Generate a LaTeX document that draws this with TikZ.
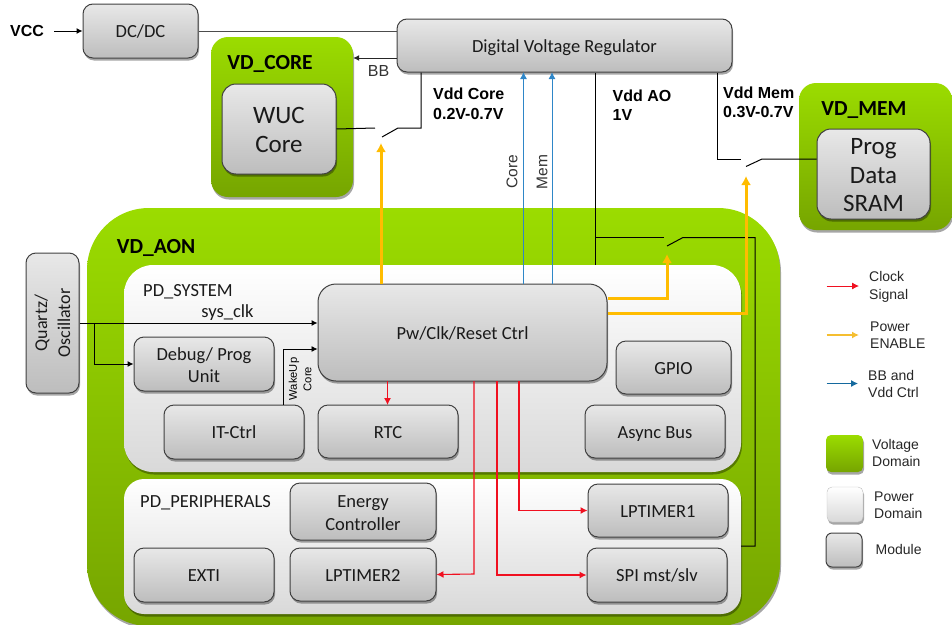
\documentclass[tikz,border=0pt]{standalone}
\usepackage{fontspec}
\setmainfont{Carlito}
\newfontfamily\arialf{Liberation Sans}
\usetikzlibrary{shadows,arrows.meta}
\newcommand\fsz[2]{\fontsize{#1}{#2}\selectfont}
\newcommand\lift[1]{\rule{0pt}{#1pt}}
\definecolor{greentop}{HTML}{9BDC00}
\definecolor{greenbot}{HTML}{76A500}
\definecolor{modtop}{HTML}{E8E8E8}
\definecolor{modbot}{HTML}{BDBDBD}
\definecolor{txt}{HTML}{1A1A1A}
\definecolor{clockred}{HTML}{F01020}
\definecolor{pwrorange}{HTML}{FFBC00}
\definecolor{ctrlblue}{HTML}{2E86C8}
\definecolor{legblue}{HTML}{14699E}
\definecolor{legorange}{HTML}{F5BE30}
\tikzset{
  x=1pt,y=-1pt,
  softshadow/.style={drop shadow={shadow xshift=1pt,shadow yshift=-2.5pt,opacity=.35,fill=black}},
  modbox/.style={draw=black!75,line width=1pt,top color=modtop,bottom color=modbot,
    rounded corners=10pt,inner sep=0pt,align=center,text=txt,font=\fsz{18.5}{22.5},softshadow},
  oneline/.style={text height=17pt,text depth=4pt},
  vdbox/.style={top color=greentop,bottom color=greenbot,inner sep=0pt,softshadow},
  pdbox/.style={top color=white,bottom color=black!15,inner sep=0pt,softshadow},
  blk/.style={draw=black,line width=1pt},
  gate/.style={draw=black,line width=1pt},
  tipped/.style={-{Latex[length=6pt,width=6pt]}},
  clk/.style={draw=clockred,line width=1.1pt,-{Latex[length=7pt,width=7pt]}},
  pwr/.style={draw=pwrorange,line width=3pt,-{Latex[length=9pt,width=10pt]}},
  ctl/.style={draw=ctrlblue,line width=1pt,-{Latex[length=7pt,width=7pt]}},
  lab/.style={inner sep=0pt,align=left,text=black,font=\arialf\bfseries\fsz{16}{19.5}},
  leg/.style={inner sep=0pt,align=left,text=black!85,font=\arialf\fsz{14}{17.5}},
  captxt/.style={inner sep=0pt,text=txt,font=\fsz{18.5}{22}},
  dom/.style={inner sep=0pt,text=black,font=\bfseries\fsz{21.5}{25}},
}
\begin{document}
\begin{tikzpicture}
\useasboundingbox (0,0) rectangle (952,624);
% domains
\node[vdbox,rounded corners=17pt,minimum width=142pt,minimum height=160pt] (vdcore) at (282,117) {};
\node[vdbox,rounded corners=17pt,minimum width=153pt,minimum height=147pt] (vdmem) at (875.5,156.5) {};
\node[vdbox,rounded corners=62pt,minimum width=693pt,minimum height=418pt] (vdaon) at (433.5,417) {};
\node[pdbox,rounded corners=29pt,minimum width=617pt,minimum height=207pt] (pdsys) at (432.5,368.5) {};
\node[pdbox,rounded corners=20pt,minimum width=617pt,minimum height=135pt] (pdper) at (432.5,546.5) {};
% modules
\node[modbox,oneline,minimum width=115pt,minimum height=54pt] (dcdc) at (140.5,31) {DC/DC};
\node[modbox,oneline,minimum width=335pt,minimum height=53pt] (dvr) at (564.5,45.5) {Digital Voltage Regulator};
\node[modbox,rounded corners=14pt,minimum width=114pt,minimum height=90pt,font=\fsz{25}{29}] (wuc) at (279,129) {\lift{18}WUC\\Core};
\node[modbox,rounded corners=14pt,minimum width=113pt,minimum height=90pt,font=\fsz{25}{28.5}] (prog) at (873.5,174) {\lift{18.5}Prog\\Data\\SRAM};
\node[modbox,rotate=90,minimum width=140pt,minimum height=53pt,font=\fsz{18}{23}] (quartz) at (52.5,323) {Quartz/\\Oscillator};
\node[modbox,oneline,rounded corners=18pt,minimum width=289pt,minimum height=97pt] (pw) at (462.5,332.5) {Pw/Clk/Reset Ctrl};
\node[modbox,minimum width=140pt,minimum height=54pt] (debug) at (204,364) {\lift{15}Debug/ Prog\\Unit};
\node[modbox,oneline,minimum width=140pt,minimum height=54pt] (it) at (234,432) {IT-Ctrl};
\node[modbox,oneline,minimum width=140pt,minimum height=53pt] (rtc) at (388,431.5) {RTC};
\node[modbox,oneline,minimum width=115pt,minimum height=53pt] (gpio) at (673.5,367.5) {GPIO};
\node[modbox,oneline,minimum width=140pt,minimum height=53pt] (async) at (655,431.5) {Async Bus};
\node[modbox,minimum width=146pt,minimum height=57pt] (energy) at (363,511.5) {\lift{15}Energy\\Controller};
\node[modbox,oneline,minimum width=140pt,minimum height=54pt] (exti) at (204,575) {EXTI};
\node[modbox,oneline,minimum width=146pt,minimum height=53pt] (lp2) at (363,574.5) {LPTIMER2};
\node[modbox,oneline,minimum width=140pt,minimum height=53pt] (lp1) at (658,510.5) {LPTIMER1};
\node[modbox,oneline,minimum width=140pt,minimum height=54pt] (spi) at (657,575) {SPI mst/slv};
% helper coordinates
\coordinate (vccin) at (54,31);
\coordinate (coreA) at (421,128);
\coordinate (coreB) at (398,128);
\coordinate (coreC) at (382,137);
\coordinate (coreD) at (375,128);
\coordinate (coreT) at (381,143);
\coordinate (aoA) at (595,237.5);
\coordinate (aoB) at (664,237.5);
\coordinate (aoC) at (667,246);
\coordinate (aoD) at (683,237.5);
\coordinate (aoE) at (755,237.5);
\coordinate (aoF) at (755,546);
\coordinate (aoT) at (667,254);
\coordinate (memA) at (717.5,159);
\coordinate (memB) at (741,159);
\coordinate (memC) at (746,166.5);
\coordinate (memD) at (762,159);
\coordinate (memT) at (746,176);
\coordinate (blu1) at (523.5,72);
\coordinate (blu2) at (552,72);
\coordinate (clkbr) at (94.5,323);
\coordinate (wake) at (283.5,349);
% black connectors
\draw[blk,tipped] (vccin) -- (dcdc.west);
\draw[draw=black!70,line width=1pt] (dcdc.east) -- (dcdc.east -| dvr.west);
\draw[draw=black!85,line width=1pt,tipped] (dvr.west |- 0,58) -- (vdcore.east |- 0,58);
\draw[gate] (coreA |- dvr.south) -- (coreA) -- (coreB) -- (coreC);
\draw[gate] (wuc.east) -- (coreD);
\draw[gate] (aoA |- dvr.south) -- (aoA |- pdsys.north);
\draw[gate] (aoA) -- (aoB);
\draw[gate] (aoC) -- (aoD) -- (aoE) -- (aoF) -- (aoF -| pdper.east);
\draw[gate] (memA |- dvr.south) -- (memA) -- (memB);
\draw[gate] (memC) -- (memD) -- (memD -| prog.west);
\draw[blk,tipped] (quartz.south) -- (pw.west |- quartz.south);
\draw[blk,tipped] (clkbr) -- (clkbr |- debug.west) -- (debug.west);
\draw[draw=black,line width=.8pt,tipped] (wake |- it.north) -- (wake) -- (wake -| pw.west);
% orange
\draw[pwr] (coreT |- pw.north) -- (coreT);
\draw[pwr] (pw.east |- 0,298) -- (aoT |- 0,298) -- (aoT);
\draw[pwr] (pw.east |- 0,313) -- (memT |- 0,313) -- (memT);
% blue
\draw[ctl] (blu1 |- pw.north) -- (blu1);
\draw[ctl] (blu2 |- pw.north) -- (blu2);
% red
\draw[clk] (387.5,381) -- (387.5,405);
\draw[clk] (474,381) -- (474,574) -- (lp2.east);
\draw[clk] (497,381) -- (497,575) -- (spi.west);
\draw[clk] (519,381) -- (519,510.5) -- (lp1.west);
% texts
\node[lab] (tvcc) at (27,31) {VCC};
\node[captxt,text=black!80] (tbb) at (378.5,71) {\arialf\fsz{16}{18}BB};
\node[lab,anchor=west] (tcore) at (433,104) {Vdd Core\\0.2V-0.7V};
\node[lab,anchor=west] (tao) at (612.5,105) {Vdd AO\\1V};
\node[lab,anchor=west] (tmem) at (723,102.5) {Vdd Mem\\0.3V-0.7V};
\node[dom] (dcore) at (270,64) {VD\_CORE};
\node[dom] (dmem) at (864,110) {VD\_MEM};
\node[dom] (daon) at (156,248) {VD\_AON};
\node[captxt,anchor=west] (tsys) at (143,292) {PD\_SYSTEM};
\node[captxt,anchor=west] (tper) at (140,502.5) {PD\_PERIPHERALS};
\node[captxt] (tclk) at (227.5,312.5) {sys\_clk};
\node[leg,rotate=90,text=black!80,font=\arialf\fsz{15.5}{18}] (tc) at (512,172) {Core};
\node[leg,rotate=90,text=black!80,font=\arialf\fsz{15.5}{18}] (tm) at (542,172) {Mem};
\node[inner sep=0pt,rotate=90,align=center,text=black,font=\arialf\fsz{11.2}{14.5}] (twu) at (300,379) {WakeUp\\Core};
% legend
\coordinate (l1a) at (826.5,286); \coordinate (l1b) at (859,286);
\coordinate (l2a) at (826.5,335); \coordinate (l2b) at (859,335);
\coordinate (l3a) at (826.5,383.5); \coordinate (l3b) at (858,383.5);
\draw[clk,line width=.9pt] (l1a) -- (l1b);
\draw[draw=legorange,line width=1.4pt,-{Latex[length=7pt,width=7pt]}] (l2a) -- (l2b);
\draw[draw=legblue,line width=1pt,-{Latex[length=7pt,width=7pt]}] (l3a) -- (l3b);
\node[leg,anchor=west] (lt1) at (869,287) {Clock\\Signal};
\node[leg,anchor=west] (lt2) at (870,335) {Power\\ENABLE};
\node[leg,anchor=west] (lt3) at (868,384) {BB and\\Vdd Ctrl};
\node[vdbox,rounded corners=5pt,minimum width=37pt,minimum height=37pt] (lv) at (844.5,453.5) {};
\node[pdbox,draw=black!25,rounded corners=5pt,minimum width=36pt,minimum height=35pt] (lp) at (845,504.5) {};
\node[modbox,rounded corners=6pt,minimum width=36pt,minimum height=34pt] (lm) at (844,550) {};
\node[leg,anchor=west] (lt4) at (872,453) {Voltage\\Domain};
\node[leg,anchor=west] (lt5) at (874,505) {Power\\Domain};
\node[leg,anchor=west] (lt6) at (875.5,549.5) {Module};
\end{tikzpicture}
\end{document}
